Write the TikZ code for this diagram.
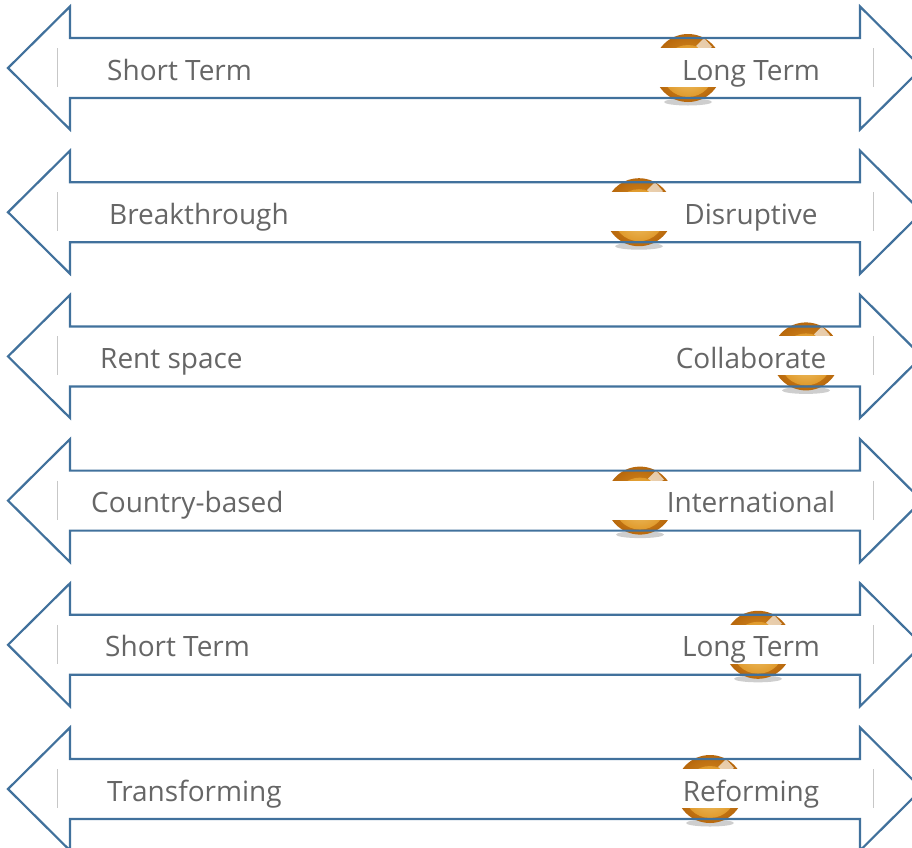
\documentclass[tikz,border=0pt]{standalone}
\usepackage{fontspec}
\setmainfont{Open Sans}
\usetikzlibrary{positioning}
\definecolor{arrowblue}{HTML}{41719C}
\definecolor{labelgray}{HTML}{666666}
\definecolor{balldark}{HTML}{B8680C}
\definecolor{ballmid}{HTML}{E09A2C}
\definecolor{balllight}{HTML}{F2CC78}

\begin{document}
\begin{tikzpicture}[x=1pt,y=-1pt,
    dblarrow/.style={draw=arrowblue, line width=2.2pt, line join=miter},
    bandend/.style={draw=black!22, line width=0.9pt},
    label/.style={text=labelgray, font=\fontsize{28}{32}\selectfont, inner sep=0pt}]
    \useasboundingbox (0,0) rectangle (912,847);
    % one double arrow per row: ball behind, white band over it, labels on top
    \foreach \i/\lx/\ltext/\bx/\rtext in {0/107/Short Term/688/Long Term,
            1/109/Breakthrough/639/Disruptive,
            2/100/Rent space/806/Collaborate,
            3/91/Country-based/640/International,
            4/105/Short Term/758/Long Term,
            5/107/Transforming/710/Reforming} {
        \pgfmathsetmacro{\cy}{68+144.2*\i}
        % golden ball with its shadow
        \fill[black!55, opacity=0.35] (\bx,\cy+34) ellipse [x radius=24pt, y radius=3.5pt];
        \shade[inner color=ballmid, outer color=balldark] (\bx,\cy) circle [radius=34pt];
        \shade[inner color=balllight, outer color=ballmid] (\bx,\cy+3) circle [radius=26pt];
        \fill[white, opacity=0.65] (\bx+8,\cy-22) -- (\bx+16,\cy-30) -- (\bx+24,\cy-21) -- (\bx+16,\cy-16) -- cycle;
        % arrow outline
        \draw[dblarrow] (8,\cy) -- (70,\cy-61.5) -- (70,\cy-30) -- (860,\cy-30)
            -- (860,\cy-61.5) -- (922,\cy) -- (860,\cy+61.5) -- (860,\cy+30)
            -- (70,\cy+30) -- (70,\cy+61.5) -- cycle;
        % text band
        \fill[white] (57,\cy-20) rectangle (873,\cy+19);
        \draw[bandend] (57,\cy-20) -- (57,\cy+19);
        \draw[bandend] (873,\cy-20) -- (873,\cy+19);
        \node[label, anchor=base west] (left\i) at (\lx,\cy+12) {\ltext};
        \node[label, anchor=base] (right\i) at (751,\cy+12) {\rtext};
    }
\end{tikzpicture}
\end{document}
